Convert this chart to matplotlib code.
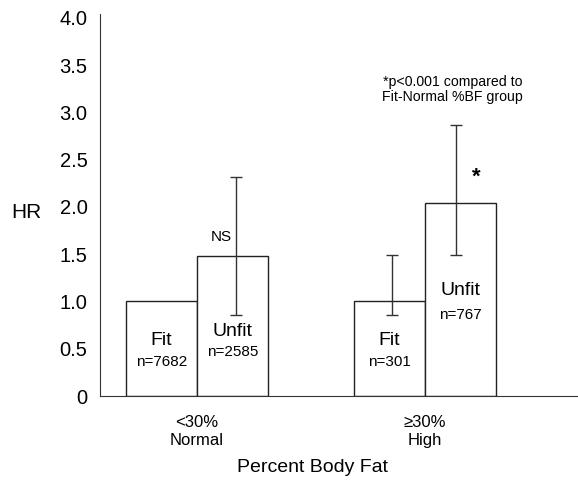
import numpy as np
import matplotlib
matplotlib.use('Agg')
import matplotlib.pyplot as plt

plt.rcParams['font.family'] = ['Liberation Sans', 'DejaVu Sans']

# data
groups = ['<30%\nNormal', '≥30%\nHigh']
fitness = ['Fit', 'Unfit']
hr = [[1.0, 1.48], [1.0, 2.04]]
ci_low = [[None, 0.86], [0.86, 1.49]]
ci_high = [[None, 2.32], [1.49, 2.87]]
n_labels = [['n=7682', 'n=2585'], ['n=301', 'n=767']]
yticks = [0, 0.5, 1.0, 1.5, 2.0, 2.5, 3.0, 3.5, 4.0]
ytick_labels = ['0', '0.5', '1.0', '1.5', '2.0', '2.5', '3.0', '3.5', '4.0']

fig = plt.figure(figsize=(5.78, 4.82), dpi=100)
ax = fig.add_axes([100 / 578, 86 / 482, 478 / 578, 382 / 482])

width = 0.311
x = np.arange(len(groups))
# where the labels inside the bars sit (y of name, y of n)
label_y = [[(0.59, 0.36), (0.68, 0.47)], [(0.59, 0.36), (1.12, 0.86)]]
err_shift = [[0.0, 0.015], [0.013, -0.018]]

for g in range(len(groups)):
    for k in range(len(fitness)):
        xc = x[g] + (k - 0.5) * width
        ax.bar(xc, hr[g][k], width=width, color='white', edgecolor='#222222', linewidth=1.0)
        if ci_low[g][k] is not None:
            mid = hr[g][k]
            ax.errorbar(xc + err_shift[g][k], mid,
                        yerr=[[mid - ci_low[g][k]], [ci_high[g][k] - mid]],
                        fmt='none', ecolor='#333333', elinewidth=1.0, capsize=4, capthick=1.0)
        ny, nn = label_y[g][k]
        ax.text(xc, ny, fitness[k], ha='center', va='center', fontsize=14)
        ax.text(xc, nn, n_labels[g][k], ha='center', va='center', fontsize=11)

ax.text(0.107, 1.68, 'NS', ha='center', va='center', fontsize=11)
ax.text(1.225, 2.31, '*', ha='center', va='center', fontsize=16, fontweight='bold')
ax.text(1.12, 3.24, '*p<0.001 compared to\nFit-Normal %BF group',
        ha='center', va='center', fontsize=10.2, linespacing=1.1)

ax.set_xlim(-0.425, 1.671)
ax.set_ylim(0, 4.04)
ax.set_yticks(yticks)
ax.set_yticklabels(ytick_labels, fontsize=14.5)
ax.set_xticks(x)
ax.set_xticklabels(groups, fontsize=12, linespacing=1.25)
ax.tick_params(axis='both', length=0)
ax.tick_params(axis='y', pad=9)
ax.tick_params(axis='x', pad=14)
for side in ['top', 'right']:
    ax.spines[side].set_visible(False)
ax.spines['left'].set_color('#333333')
ax.spines['bottom'].set_color('#333333')

fig.text(26 / 578, 1 - 212 / 482, 'HR', ha='center', va='center', fontsize=15)
fig.text(312 / 578, 1 - 468 / 482, 'Percent Body Fat', ha='center', va='center', fontsize=14)

fig.savefig('out.png', dpi=100)
